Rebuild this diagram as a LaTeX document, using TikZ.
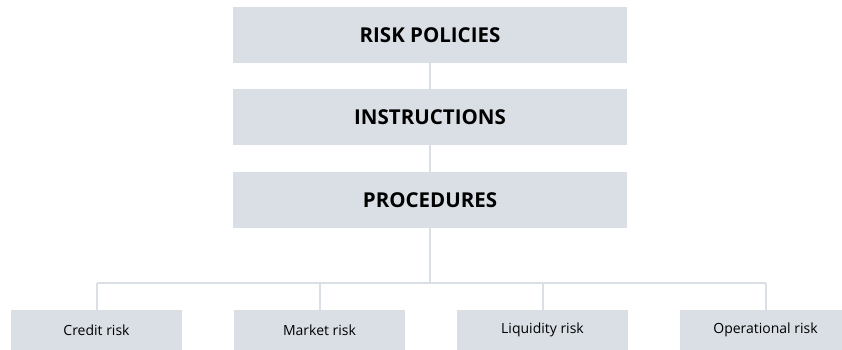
\documentclass[tikz,border=0pt]{standalone}
\usepackage{fontspec}
\setmainfont{Open Sans}
\usetikzlibrary{positioning}
\definecolor{boxgrey}{HTML}{D9DFE5}

\begin{document}
\begin{tikzpicture}[x=1pt,y=-1pt,
  level/.style={fill=boxgrey,minimum width=394pt,minimum height=56pt,inner sep=0pt,
    font=\fontsize{20.5}{24}\selectfont\bfseries},
  risk/.style={fill=boxgrey,minimum width=171pt,minimum height=40pt,inner sep=0pt,
    font=\fontsize{14}{17}\selectfont},
  link/.style={draw=boxgrey,line width=2pt}]
  \clip (0,0) rectangle (842,350);
  \def\midx{430};
  \def\bary{283};

  % the three levels
  \node[level] (policies) at (\midx,35) {RISK POLICIES};
  \node[level] (instructions) at (\midx,117) {INSTRUCTIONS};
  \node[level] (procedures) at (\midx,200) {PROCEDURES};
  \draw[link] (policies) -- (instructions);
  \draw[link] (instructions) -- (procedures);

  % the four kinds of risk
  \foreach \name/\x/\txt in {credit/96.5/Credit risk,market/319.5/Market risk,
      liquidity/542.5/Liquidity risk,operational/765.5/Operational risk} {
    \node[risk] (\name) at (\x,330) {\txt};
    \draw[link] (\name.north) -- (\x,\bary);
  }
  \coordinate (bar) at (\midx,\bary);
  \draw[link] (procedures) -- (bar);
  \draw[link] (credit.north |- bar) -- (operational.north |- bar);
\end{tikzpicture}
\end{document}
